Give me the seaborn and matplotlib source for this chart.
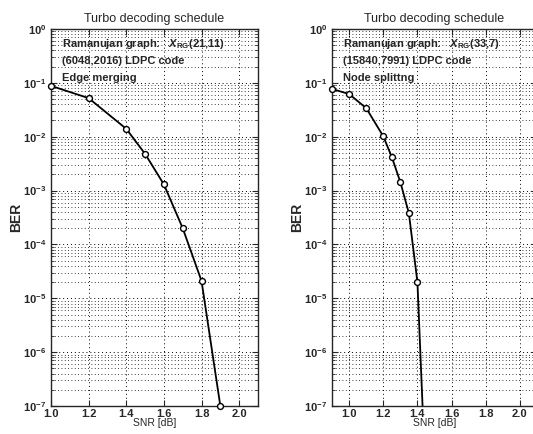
import pandas as pd
import seaborn as sns
import matplotlib
matplotlib.use("Agg")
import matplotlib.pyplot as plt
import matplotlib.ticker as ticker
import numpy as np

# edge merging, (6048,2016) code
snr_left = [1.0, 1.2, 1.4, 1.5, 1.6, 1.7, 1.8, 1.9]
ber_left = [0.088, 0.052, 0.014, 0.0048, 0.0013, 2.0e-4, 2.1e-5, 1.0e-7]

# node splitting, (15840,7991) code
snr_right = [0.9, 1.0, 1.1, 1.2, 1.25, 1.3, 1.35, 1.4, 1.45]
ber_right = [0.077, 0.062, 0.034, 0.0102, 0.0042, 0.00144, 3.8e-4, 2.0e-5, 3.0e-9]

titles = ["Turbo decoding schedule", "Turbo decoding schedule"]
notes = [
    [r"Ramanujan graph:   $X_{\mathrm{RG}}$(21,11)", "(6048,2016) LDPC code", "Edge merging"],
    [r"Ramanujan graph:   $X_{\mathrm{RG}}$(33,7)", "(15840,7991) LDPC code", "Node splittng"],
]
xlims = [(1.0, 2.1), (0.9, 2.1)]
xticks = [1.0, 1.2, 1.4, 1.6, 1.8, 2.0]

sns.set_style("ticks")
plt.rcParams['font.family'] = ['Liberation Sans', 'DejaVu Sans']
plt.rcParams['mathtext.fontset'] = 'custom'
plt.rcParams['mathtext.rm'] = 'Liberation Sans:bold'
plt.rcParams['mathtext.it'] = 'Liberation Sans:bold:italic'
plt.rcParams['mathtext.bf'] = 'Liberation Sans:bold'

df_left = pd.DataFrame({"SNR": snr_left, "BER": ber_left})
df_right = pd.DataFrame({"SNR": snr_right, "BER": ber_right})

fig = plt.figure(figsize=(5.33, 4.34), dpi=100)
ax1 = fig.add_axes([0.0957, 0.0645, 0.3883, 0.8687])
ax2 = fig.add_axes([0.6229, 0.0645, 0.3846, 0.8687])

for ax, df, title, note, xl in zip([ax1, ax2], [df_left, df_right], titles, notes, xlims):
    sns.lineplot(data=df, x="SNR", y="BER", ax=ax, color="black", linewidth=1.3)
    shown = df[df["BER"] >= 1e-7]
    sns.scatterplot(data=shown, x="SNR", y="BER", ax=ax, marker="o", s=18,
                    facecolor="white", edgecolor="black", linewidth=1.0,
                    clip_on=False, zorder=5)
    ax.set_yscale("log")
    ax.set_ylim(1e-7, 1)
    ax.set_xlim(*xl)
    ax.set_xticks(xticks)
    ax.xaxis.set_major_formatter(ticker.FormatStrFormatter('%.1f'))
    ax.yaxis.set_major_locator(ticker.LogLocator(base=10, numticks=10))
    ax.yaxis.set_minor_locator(ticker.LogLocator(base=10, subs=np.arange(2, 10), numticks=20))
    ax.yaxis.set_minor_formatter(ticker.NullFormatter())
    ax.grid(which="major", axis="both", linestyle=(0, (1, 3)), color="black", linewidth=0.7)
    ax.grid(which="minor", axis="y", linestyle=(0, (1, 3)), color="black", linewidth=0.6)
    ax.tick_params(which="both", direction="in", top=True, right=True, labelsize=8)
    ax.tick_params(axis="x", pad=2)
    ax.tick_params(which="major", length=4)
    ax.tick_params(which="minor", length=2)
    for lab in ax.get_xticklabels() + ax.get_yticklabels():
        lab.set_fontweight("bold")
    for s in ax.spines.values():
        s.set_linewidth(1.0)
    ax.set_title(title, fontsize=9, pad=5)
    ax.set_xlabel("SNR [dB]", fontsize=7.5, labelpad=-0.5)
    ax.set_ylabel("BER", fontsize=10, fontweight="bold", labelpad=0)
    for i, line in enumerate(note):
        ax.text(0.055, 0.952 - i * 0.045, line, transform=ax.transAxes,
                fontsize=8, fontweight="bold", va="baseline", ha="left")

fig.savefig("out.png", dpi=100)
